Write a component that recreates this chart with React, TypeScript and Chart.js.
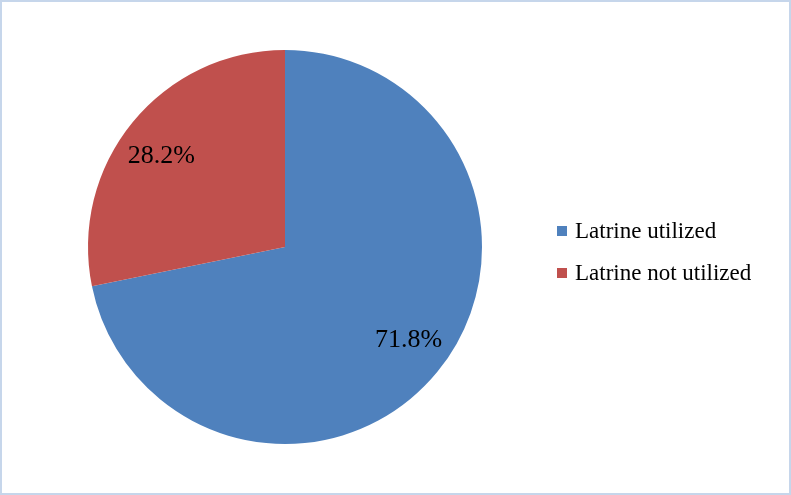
import React, { useEffect, useRef } from "react";
import { Chart, registerables } from "chart.js";

Chart.register(...registerables);

const categories = ["Latrine utilized", "Latrine not utilized"];
const values = [71.8, 28.2];
const colors = ["#4F81BD", "#C0504D"];

const FONT = '"Liberation Serif", "Times New Roman", serif';

const framePlugin = {
  id: "frame",
  beforeDraw(chart: any) {
    const { ctx, width, height } = chart;
    ctx.save();
    ctx.fillStyle = "#ffffff";
    ctx.fillRect(0, 0, width, height);
    ctx.strokeStyle = "#c6d6eb";
    ctx.lineWidth = 2;
    ctx.strokeRect(1, 1, width - 2, height - 2);
    ctx.restore();
  },
};

const labelPlugin = {
  id: "pieLabels",
  afterDatasetsDraw(chart: any) {
    const { ctx } = chart;
    const meta = chart.getDatasetMeta(0);
    const ds = chart.data.datasets[0];
    ctx.save();
    ctx.fillStyle = "#000000";
    ctx.font = `26px ${FONT}`;
    ctx.textAlign = "center";
    ctx.textBaseline = "middle";
    meta.data.forEach((arc: any, i: number) => {
      const { x, y, startAngle, endAngle, outerRadius } = arc.getProps(
        ["x", "y", "startAngle", "endAngle", "outerRadius"],
        true
      );
      const mid = (startAngle + endAngle) / 2;
      ctx.fillText(
        `${Number(ds.data[i]).toFixed(1)}%`,
        x + Math.cos(mid) * outerRadius * 0.81,
        y + Math.sin(mid) * outerRadius * 0.74 + 1
      );
    });
    // legend
    ctx.font = `23px ${FONT}`;
    ctx.textAlign = "left";
    const lx = 557;
    const ly0 = 231;
    const gap = 42;
    (chart.data.labels as string[]).forEach((lab: string, i: number) => {
      const cy = ly0 + i * gap;
      ctx.fillStyle = (ds.backgroundColor as string[])[i];
      ctx.fillRect(lx, cy - 5, 10, 10);
      ctx.fillStyle = "#000000";
      ctx.fillText(lab, lx + 18, cy + 1);
    });
    ctx.restore();
  },
};

export default function App() {
  const ref = useRef<HTMLCanvasElement | null>(null);
  useEffect(() => {
    document.body.style.margin = "0";
    if (!ref.current) return;
    const chart = new Chart(ref.current, {
      type: "pie",
      data: {
        labels: categories,
        datasets: [
          {
            data: values,
            backgroundColor: colors,
            borderWidth: 0,
          },
        ],
      },
      options: {
        animation: false,
        responsive: false,
        maintainAspectRatio: false,
        layout: { padding: { left: 88, right: 309, top: 50, bottom: 51 } },
        plugins: {
          legend: { display: false },
          tooltip: { enabled: false },
        },
      },
      plugins: [framePlugin, labelPlugin],
    });
    return () => chart.destroy();
  }, []);
  return (
    <div style={{ position: "fixed", left: 0, top: 0, width: 791, height: 495 }}>
      <canvas ref={ref} width={791} height={495} style={{ display: "block" }} />
    </div>
  );
}
